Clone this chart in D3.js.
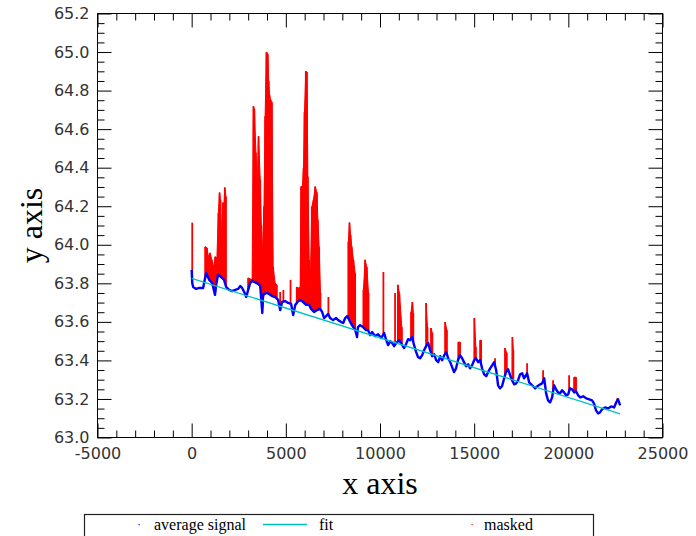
<!DOCTYPE html>
<html><head><meta charset="utf-8">
<script src="https://cdn.jsdelivr.net/npm/d3@7/dist/d3.min.js"></script>
<style>body{margin:0;background:#fff;}svg{display:block;}</style>
</head><body><svg id="c" width="696" height="536"></svg>
<script>
// ---- data ----
const xTickValues = [-5000, 0, 5000, 10000, 15000, 20000, 25000];
const yTickValues = [63.0, 63.2, 63.4, 63.6, 63.8, 64.0, 64.2, 64.4, 64.6, 64.8, 65.0, 65.2];
const legendLabels = ["average signal", "fit", "masked"];

// average signal [x, value]
const signalPoints = [
[0,63.870],[30,63.802],[80,63.781],[240,63.771],[400,63.776],[610,63.776],[670,63.807],[770,63.854],[930,63.818],[1090,63.802],
[1240,63.740],[1300,63.792],[1400,63.844],[1560,63.833],[1720,63.818],[1830,63.781],[1990,63.766],[2150,63.760],[2310,63.766],[2470,63.771],
[2580,63.786],[2680,63.776],[2790,63.755],[2900,63.729],[3000,63.766],[3110,63.802],[3220,63.813],[3320,63.807],[3430,63.802],[3530,63.797],
[3640,63.786],[3750,63.646],[3790,63.740],[3950,63.750],[4110,63.745],[4270,63.734],[4430,63.729],[4590,63.714],[4700,63.661],[4800,63.703],
[4960,63.708],[5120,63.698],[5280,63.693],[5390,63.635],[5500,63.688],[5660,63.708],[5760,63.714],[5920,63.703],[6080,63.688],[6240,63.688],
[6340,63.667],[6500,63.651],[6660,63.661],[6820,63.667],[6930,63.651],[7030,63.620],[7140,63.630],[7250,63.641],[7350,63.620],[7510,63.609],
[7670,63.620],[7780,63.609],[7940,63.599],[8050,63.594],[8150,63.620],[8260,63.630],[8420,63.599],[8580,63.573],[8690,63.557],[8780,63.521],
[8830,63.573],[8940,63.583],[9100,63.573],[9260,63.557],[9370,63.557],[9470,63.531],[9580,63.547],[9740,63.526],[9900,63.536],[10060,63.516],
[10220,63.542],[10330,63.505],[10430,63.479],[10540,63.500],[10650,63.490],[10750,63.474],[10860,63.490],[11020,63.505],[11180,63.479],[11280,63.464],
[11380,63.484],[11490,63.510],[11600,63.505],[11700,63.521],[11810,63.479],[11920,63.443],[12020,63.417],[12130,63.411],[12240,63.427],[12340,63.453],
[12450,63.474],[12560,63.490],[12660,63.453],[12770,63.422],[12880,63.432],[12980,63.401],[13090,63.391],[13200,63.422],[13300,63.401],[13410,63.427],
[13520,63.443],[13620,63.411],[13730,63.391],[13830,63.365],[13930,63.339],[14040,63.359],[14140,63.401],[14250,63.427],[14360,63.411],[14460,63.391],
[14570,63.370],[14680,63.380],[14780,63.359],[14890,63.375],[15000,63.401],[15100,63.411],[15210,63.391],[15320,63.401],[15420,63.359],[15530,63.328],
[15640,63.318],[15740,63.339],[15850,63.359],[15960,63.375],[16060,63.391],[16170,63.349],[16270,63.271],[16370,63.255],[16480,63.266],[16590,63.307],
[16690,63.339],[16800,63.354],[16910,63.323],[17010,63.297],[17120,63.276],[17230,63.281],[17330,63.297],[17440,63.328],[17550,63.333],[17650,63.307],
[17810,63.333],[17920,63.286],[18080,63.271],[18240,63.255],[18350,63.266],[18510,63.276],[18610,63.281],[18720,63.307],[18820,63.229],[18920,63.193],
[19030,63.182],[19140,63.208],[19240,63.271],[19350,63.250],[19450,63.234],[19560,63.229],[19670,63.245],[19770,63.234],[19880,63.219],[19990,63.224],
[20090,63.255],[20200,63.250],[20310,63.234],[20410,63.240],[20520,63.219],[20630,63.208],[20790,63.214],[20950,63.203],[21110,63.198],[21260,63.193],
[21360,63.177],[21470,63.141],[21580,63.125],[21680,63.130],[21790,63.146],[21950,63.156],[22110,63.151],[22270,63.161],[22430,63.156],[22540,63.182],
[22640,63.198],[22750,63.167]
];

// masked samples [x, highest value]
const maskedPoints = [
[30,64.115],[720,63.990],[810,63.984],[890,63.938],[980,63.958],[1070,63.922],[1160,63.885],[1250,63.938],[1340,63.932],[1420,64.167],
[1480,64.271],[1530,64.234],[1600,64.026],[1660,64.219],[1710,64.198],[1760,64.297],[1820,64.250],
[3000,63.828],[3110,63.823],[3210,63.818],[3280,64.719],[3330,64.703],[3410,64.479],[3480,64.300],[3550,64.563],[3640,64.339],[3700,64.100],[3760,63.958],
[3840,64.200],[3900,64.667],[3970,65.000],[4040,64.990],[4090,64.850],[4130,64.781],[4180,64.755],[4260,64.740],[4330,63.885],[4430,63.802],[4520,63.792],
[4700,63.755],[4870,63.766],[5250,63.818],[5580,63.781],[5670,63.776],
[5760,63.781],[5810,64.302],[5880,64.302],[5940,64.400],[5990,64.688],[6060,64.901],[6120,64.896],[6170,64.354],[6240,63.922],[6290,63.766],
[6380,64.198],[6470,64.234],[6560,64.302],[6650,64.271],[6700,64.130],[6770,63.990],[6840,63.750],[7260,63.729],
[8320,64.016],[8380,64.115],[8440,64.050],[8500,63.990],[8590,63.922],[8680,63.854],[9120,63.766],[9210,63.922],[9300,63.885],[9390,63.750],
[10180,63.859],[10800,63.750],[10950,63.792],[11030,63.750],[11160,63.573],
[11650,63.651],[11720,63.703],[11770,63.646],[12450,63.698],[12520,63.573],[12710,63.568],[12780,63.542],[13460,63.599],[13550,63.557],
[14160,63.495],[14250,63.495],[15010,63.620],[15090,63.469],[15320,63.505],[15370,63.505],[16110,63.411],[16640,63.464],[16730,63.438],
[17030,63.521],[17080,63.453],[17810,63.385],[18660,63.349],[19190,63.297],[20040,63.323],[20310,63.313],[20410,63.313],[22590,63.203]
];

// linear fit end points
const fitX = [0, 22750];
const fitY = [63.826, 63.123];

// ---- drawing ----
const L = 97.5, R = 662.5, T = 13.5, B = 437.5;
const x = d3.scaleLinear().domain([-5000, 25000]).range([L, R]);
const y = d3.scaleLinear().domain([63, 65.2]).range([B, T]);
const svg = d3.select("#c");

const xMinor = d3.range(-5000, 25001, 1000).filter(v => v % 5000 !== 0);
const yMinor = d3.range(0, 45).map(i => +(63 + i * 0.05).toFixed(2)).filter(v => Math.round(v * 100) % 20 !== 0);

const tickFont = "'DejaVu Sans', sans-serif";
function styleAxis(g) {
  g.select(".domain").remove();
  g.selectAll(".tick line").attr("stroke", "#000").attr("stroke-width", 1);
  g.selectAll(".tick text").attr("fill", "#333").style("font-family", tickFont).style("font-size", "16px");
}
// bottom
svg.append("g").attr("transform", `translate(0,${B})`)
  .call(d3.axisBottom(x).tickValues(xTickValues).tickSize(-14).tickPadding(10).tickFormat(v => String(v))).call(styleAxis);
svg.append("g").attr("transform", `translate(0,${B})`)
  .call(d3.axisBottom(x).tickValues(xMinor).tickSize(-7).tickFormat("")).call(styleAxis);
// top
svg.append("g").attr("transform", `translate(0,${T})`)
  .call(d3.axisTop(x).tickValues(xTickValues).tickSize(-14).tickFormat("")).call(styleAxis);
svg.append("g").attr("transform", `translate(0,${T})`)
  .call(d3.axisTop(x).tickValues(xMinor).tickSize(-7).tickFormat("")).call(styleAxis);
// left
svg.append("g").attr("transform", `translate(${L},0)`)
  .call(d3.axisLeft(y).tickValues(yTickValues).tickSize(-14).tickPadding(8).tickFormat(d3.format(".1f"))).call(styleAxis);
svg.append("g").attr("transform", `translate(${L},0)`)
  .call(d3.axisLeft(y).tickValues(yMinor).tickSize(-7).tickFormat("")).call(styleAxis);
// right
svg.append("g").attr("transform", `translate(${R},0)`)
  .call(d3.axisRight(y).tickValues(yTickValues).tickSize(-14).tickFormat("")).call(styleAxis);
svg.append("g").attr("transform", `translate(${R},0)`)
  .call(d3.axisRight(y).tickValues(yMinor).tickSize(-7).tickFormat("")).call(styleAxis);

svg.append("rect").attr("x", L).attr("y", T).attr("width", R - L).attr("height", B - T)
  .attr("fill", "none").attr("stroke", "#000").attr("stroke-width", 1);

// interpolate the signal at any x
const bis = d3.bisector(d => d[0]).left;
function signalAt(v) {
  const i = bis(signalPoints, v);
  if (i <= 0) return signalPoints[0][1];
  if (i >= signalPoints.length) return signalPoints[signalPoints.length - 1][1];
  const a = signalPoints[i - 1], b = signalPoints[i];
  return a[1] + (b[1] - a[1]) * (v - a[0]) / (b[0] - a[0]);
}

// group neighbouring masked samples into runs
const runs = [];
maskedPoints.forEach((p, i) => {
  if (i > 0 && p[0] - maskedPoints[i - 1][0] <= 130) runs[runs.length - 1].push(p);
  else runs.push([p]);
});

const plot = svg.append("g");
// masked (red): filled runs + individual spikes
plot.selectAll("path.run").data(runs.filter(r => r.length > 1)).join("path").attr("class", "run")
  .attr("d", d3.area().x(d => x(d[0])).y0(d => y(signalAt(d[0]))).y1(d => y(d[1])))
  .attr("fill", "#ff0000").attr("stroke", "#ff0000").attr("stroke-width", 1);
plot.selectAll("line.m").data(maskedPoints).join("line").attr("class", "m")
  .attr("x1", d => x(d[0])).attr("x2", d => x(d[0]))
  .attr("y1", d => y(signalAt(d[0]))).attr("y2", d => y(d[1]))
  .attr("stroke", "#ff0000").attr("stroke-width", 1.8);
// average signal (blue)
plot.append("path").datum(signalPoints)
  .attr("d", d3.line().x(d => x(d[0])).y(d => y(d[1])))
  .attr("fill", "none").attr("stroke", "#0000ff").attr("stroke-width", 2.4).attr("stroke-linejoin", "round");
// fit (cyan)
plot.append("path").datum(fitX.map((v, i) => [v, fitY[i]]))
  .attr("d", d3.line().x(d => x(d[0])).y(d => y(d[1])))
  .attr("fill", "none").attr("stroke", "#00bfbf").attr("stroke-width", 1.3);

// axis titles
svg.append("text").attr("x", (L + R) / 2).attr("y", 494).attr("text-anchor", "middle")
  .style("font-family", "'Liberation Serif', serif").style("font-size", "32px").attr("fill", "#000").text("x axis");
svg.append("text").attr("transform", `translate(42,${(T + B) / 2}) rotate(-90)`).attr("text-anchor", "middle")
  .style("font-family", "'Liberation Serif', serif").style("font-size", "32px").attr("fill", "#000").text("y axis");

// legend
const lg = svg.append("g");
lg.append("rect").attr("x", 84.5).attr("y", 514.5).attr("width", 509).attr("height", 40)
  .attr("fill", "#fff").attr("stroke", "#222").attr("stroke-width", 1.2);
const lf = "'Liberation Serif', serif";
lg.append("rect").attr("x", 138.5).attr("y", 524).attr("width", 1.2).attr("height", 1.2).attr("fill", "#0000ff");
lg.append("text").attr("x", 154).attr("y", 530).style("font-family", lf).style("font-size", "16px").text(legendLabels[0]);
lg.append("line").attr("x1", 263).attr("x2", 307).attr("y1", 524.5).attr("y2", 524.5).attr("stroke", "#00bfbf").attr("stroke-width", 1.3);
lg.append("text").attr("x", 319).attr("y", 530).style("font-family", lf).style("font-size", "16px").text(legendLabels[1]);
lg.append("rect").attr("x", 471.5).attr("y", 524).attr("width", 1.2).attr("height", 1.2).attr("fill", "#ff0000");
lg.append("text").attr("x", 484).attr("y", 530).style("font-family", lf).style("font-size", "16px").text(legendLabels[2]);
</script>
</body></html>
